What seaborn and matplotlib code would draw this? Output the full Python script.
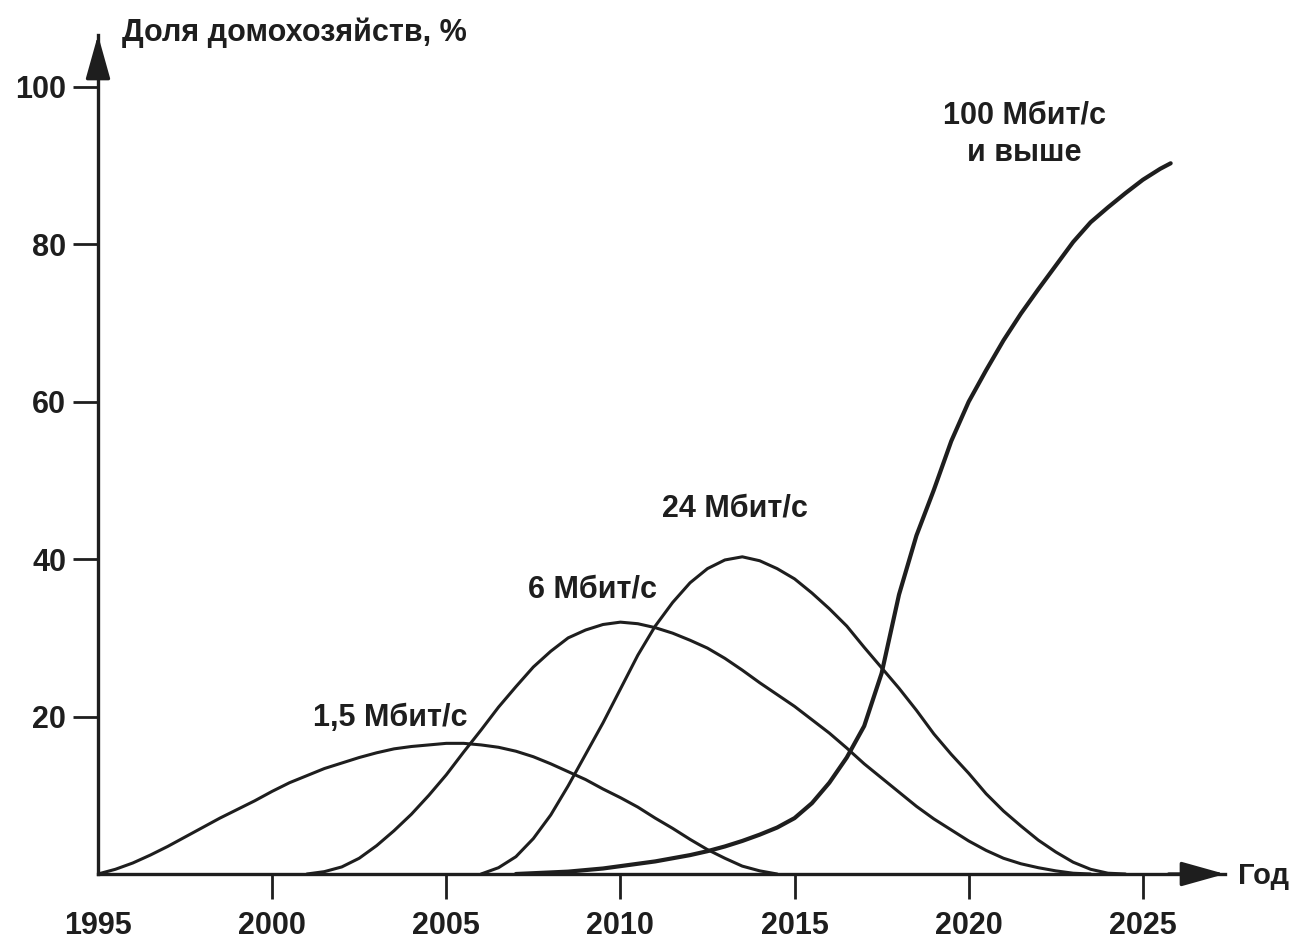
import matplotlib
matplotlib.use("Agg")
import matplotlib.pyplot as plt
import numpy as np
import pandas as pd
import seaborn as sns

# sampling grids (years) for each curve, values every half year
years_15 = np.arange(1995, 2014.51, 0.5)
share_15 = [0, 0.6, 1.4, 2.4, 3.5, 4.7, 5.9, 7.1, 8.2, 9.3,
            10.5, 11.6, 12.5, 13.4, 14.1, 14.8, 15.4, 15.9, 16.2, 16.4,
            16.6, 16.6, 16.4, 16.1, 15.6, 14.9, 14.0, 13.0, 12.0, 10.8,
            9.7, 8.5, 7.1, 5.8, 4.4, 3.1, 2.0, 1.0, 0.4, 0]

years_6 = np.arange(2001, 2023.51, 0.5)
share_6 = [0, 0.3, 0.9, 2.0, 3.6, 5.5, 7.6, 10.0,
           12.6, 15.5, 18.3, 21.2, 23.8, 26.3, 28.3, 30.0, 31.0, 31.7,
           32.0, 31.8, 31.3, 30.6, 29.7, 28.7, 27.4, 25.9, 24.3, 22.8,
           21.3, 19.6, 17.9, 16.0, 14.0, 12.2, 10.4, 8.6, 7.0, 5.6,
           4.2, 3.0, 2.0, 1.3, 0.8, 0.4, 0.1, 0]

years_24 = np.arange(2006, 2024.51, 0.5)
share_24 = [0, 0.8, 2.2, 4.5, 7.5, 11.2, 15.2, 19.2,
            23.5, 27.8, 31.5, 34.5, 37.0, 38.8, 39.9, 40.3, 39.8, 38.8,
            37.5, 35.7, 33.7, 31.5, 28.8, 26.2, 23.6, 20.8, 17.8, 15.2,
            12.8, 10.2, 8.0, 6.1, 4.3, 2.8, 1.5, 0.6, 0.1, 0]

years_100 = list(np.arange(2007, 2025.51, 0.5)) + [2025.8]
share_100 = [0, 0.1, 0.2, 0.3, 0.5, 0.7,
             1.0, 1.3, 1.6, 2.0, 2.4, 2.9, 3.5, 4.2, 5.0, 5.9,
             7.1, 9.0, 11.6, 14.8, 18.8, 25.5, 35.5, 43.0, 48.8, 55.0,
             60.0, 64.0, 67.8, 71.2, 74.3, 77.3, 80.3, 82.8, 84.7, 86.5,
             88.2, 89.6, 90.3]

x_ticks = [1995, 2000, 2005, 2010, 2015, 2020, 2025]
y_ticks = [20, 40, 60, 80, 100]

ink = "#1e1e1e"
fs = 22

sns.set_theme(style="white")
plt.rcParams["font.family"] = ["Liberation Sans", "DejaVu Sans"]
plt.rcParams["font.weight"] = "bold"

fig = plt.figure(figsize=(13.03, 9.42), dpi=100)
W, H = 1303, 942
ax = fig.add_axes([98 / W, 1 - 874 / H, (1225 - 98) / W, (874 - 35) / H])

series = [
    (years_15, share_15, 2.2),
    (years_6, share_6, 2.2),
    (years_24, share_24, 2.2),
    (years_100, share_100, 3.0),
]
for xs, ys, lw in series:
    df = pd.DataFrame({"year": xs, "share": ys})
    sns.lineplot(data=df, x="year", y="share", ax=ax, color=ink, linewidth=lw,
                 estimator=None, sort=False, legend=False)
for ln in ax.lines:
    ln.set_solid_joinstyle("round")
    ln.set_solid_capstyle("round")

ax.set_xlim(1995, 2027.36)
ax.set_ylim(0, 106.6)

for side in ["top", "right"]:
    ax.spines[side].set_visible(False)
for side in ["left", "bottom"]:
    ax.spines[side].set_color(ink)
    ax.spines[side].set_linewidth(2.4)

ax.set_xticks(x_ticks)
ax.set_xticklabels([str(t) for t in x_ticks])
ax.set_yticks(y_ticks)
ax.set_yticklabels([str(t) for t in y_ticks])
ax.tick_params(axis="both", direction="out", length=18, width=2, color=ink,
               labelsize=fs, labelcolor=ink, bottom=True, left=True)
ax.tick_params(axis="x", pad=9)
ax.tick_params(axis="y", pad=5)
ax.xaxis.get_major_ticks()[0].tick1line.set_visible(False)
ax.set_xlabel("")
ax.set_ylabel("")

# arrow heads on the axes
arrow = dict(arrowstyle="-|>,head_length=1.5,head_width=0.42", color=ink, lw=2.4,
             shrinkA=0, shrinkB=0, mutation_scale=18)
ax.annotate("", xy=(1, 0), xytext=(0.95, 0), xycoords="axes fraction",
            arrowprops=arrow, annotation_clip=False)
ax.annotate("", xy=(0, 1), xytext=(0, 0.95), xycoords="axes fraction",
            arrowprops=arrow, annotation_clip=False)

fig.text(122 / W, 1 - 33 / H, "Доля домохозяйств, %", ha="left", va="center",
         fontsize=fs, color=ink)
fig.text(1238 / W, 1 - 876 / H, "Год", ha="left", va="center",
         fontsize=21, color=ink)

ax.text(2003.4, 19.8, "1,5 Мбит/с", ha="center", va="center", fontsize=fs, color=ink)
ax.text(2009.2, 36.2, "6 Мбит/с", ha="center", va="center", fontsize=fs, color=ink)
ax.text(2013.3, 46.4, "24 Мбит/с", ha="center", va="center", fontsize=fs, color=ink)
ax.text(2021.6, 94.0, "100 Мбит/с\nи выше", ha="center", va="center", fontsize=fs,
        color=ink, linespacing=1.3)

fig.savefig("out.png", dpi=100)
